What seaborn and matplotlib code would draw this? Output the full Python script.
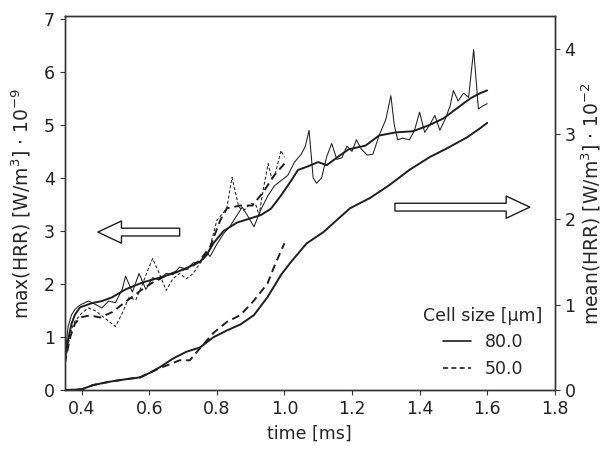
import matplotlib
matplotlib.use("Agg")
import seaborn as sns
import pandas as pd
import matplotlib.pyplot as plt
from matplotlib.lines import Line2D

# Data --------------------------------------------------------------------
# max(HRR), 80 um, raw
t80_raw = [0.35, 0.355, 0.36, 0.37, 0.38, 0.39, 0.40, 0.42, 0.44, 0.46,
           0.48, 0.50, 0.52, 0.53, 0.55, 0.57, 0.59, 0.61, 0.63, 0.65,
           0.67, 0.69, 0.71, 0.73, 0.75, 0.77, 0.78, 0.80, 0.82, 0.84,
           0.86, 0.875, 0.89, 0.91, 0.93, 0.95, 0.97, 0.99, 1.01, 1.03,
           1.05, 1.062, 1.073, 1.085, 1.095, 1.11, 1.125, 1.14, 1.155, 1.17,
           1.185, 1.20, 1.213, 1.227, 1.245, 1.262, 1.28, 1.30, 1.315, 1.325,
           1.335, 1.35, 1.37, 1.385, 1.40, 1.415, 1.43, 1.445, 1.46, 1.475,
           1.49, 1.50, 1.514, 1.53, 1.545, 1.56, 1.574, 1.585, 1.60]
max80_raw = [0.5, 0.9, 1.2, 1.42, 1.52, 1.58, 1.62, 1.68, 1.62, 1.55,
             1.68, 1.65, 1.9, 2.15, 1.85, 2.2, 1.9, 2.12, 2.08, 2.2,
             2.18, 2.32, 2.28, 2.4, 2.42, 2.6, 2.52, 2.75, 2.95, 3.1,
             3.3, 3.45, 3.3, 3.08, 3.4, 3.65, 3.85, 3.95, 4.05, 4.3,
             4.45, 4.6, 4.9, 4.0, 3.9, 4.0, 4.4, 4.65, 4.35, 4.38,
             4.6, 4.5, 4.72, 4.55, 4.43, 4.45, 4.8, 5.1, 5.55, 5.0,
             4.72, 4.75, 4.72, 4.9, 5.24, 4.86, 5.0, 5.18, 4.9, 5.1,
             5.35, 5.65, 5.45, 5.6, 5.52, 6.42, 5.3, 5.35, 5.4]
# max(HRR), 50 um, raw
t50_raw = [0.35, 0.36, 0.37, 0.38, 0.40, 0.42, 0.44, 0.46, 0.48, 0.50,
           0.52, 0.54, 0.56, 0.58, 0.595, 0.61, 0.63, 0.65, 0.67, 0.69,
           0.71, 0.73, 0.75, 0.775, 0.80, 0.82, 0.83, 0.845, 0.865, 0.88,
           0.90, 0.915, 0.925, 0.937, 0.952, 0.962, 0.972, 0.99, 1.0]
max50_raw = [0.5, 0.85, 1.15, 1.3, 1.45, 1.55, 1.5, 1.4, 1.3, 1.2,
             1.45, 1.75, 1.7, 2.0, 2.25, 2.48, 2.2, 1.88, 2.1, 2.2,
             2.1, 2.2, 2.39, 2.58, 3.2, 3.35, 3.45, 4.01, 3.45, 3.39,
             3.52, 3.5, 3.3, 3.77, 4.27, 4.0, 4.05, 4.52, 4.39]
# max(HRR), 80 um, smoothed
t80_avg = [0.35, 0.36, 0.37, 0.38, 0.395, 0.43, 0.46, 0.49, 0.53, 0.58,
           0.63, 0.68, 0.72, 0.75, 0.77, 0.79, 0.82, 0.86, 0.89, 0.93,
           0.96, 0.99, 1.02, 1.04, 1.07, 1.10, 1.125, 1.165, 1.19, 1.24,
           1.28, 1.33, 1.38, 1.43, 1.47, 1.51, 1.55, 1.58, 1.60]
max80_avg = [0.55, 0.95, 1.25, 1.42, 1.56, 1.64, 1.68, 1.75, 1.9, 2.03,
             2.12, 2.22, 2.33, 2.42, 2.55, 2.77, 3.0, 3.16, 3.22, 3.3,
             3.42, 3.67, 3.95, 4.15, 4.22, 4.3, 4.24, 4.43, 4.54, 4.61,
             4.8, 4.86, 4.88, 5.0, 5.12, 5.31, 5.5, 5.6, 5.65]
# max(HRR), 50 um, smoothed
t50_avg = [0.35, 0.366, 0.38, 0.395, 0.425, 0.455, 0.49, 0.535, 0.575, 0.61,
           0.65, 0.69, 0.72, 0.75, 0.78, 0.81, 0.83, 0.87, 0.905, 0.937,
           0.97, 1.0]
max50_avg = [0.5, 1.0, 1.25, 1.37, 1.41, 1.37, 1.47, 1.69, 1.88, 2.03,
             2.16, 2.26, 2.3, 2.45, 2.7, 3.2, 3.43, 3.48, 3.48, 3.73,
             4.05, 4.27]
# mean(HRR)
t80_mean = [0.35, 0.40, 0.434, 0.484, 0.534, 0.573, 0.60, 0.632, 0.67, 0.71,
            0.75, 0.79, 0.83, 0.87, 0.91, 0.95, 0.99, 1.017, 1.066, 1.115,
            1.194, 1.253, 1.31, 1.37, 1.43, 1.48, 1.54, 1.58, 1.60]
mean80 = [0.0, 0.01, 0.06, 0.1, 0.13, 0.15, 0.2, 0.27, 0.37, 0.45,
          0.5, 0.62, 0.7, 0.77, 0.88, 1.09, 1.35, 1.49, 1.72, 1.85,
          2.13, 2.25, 2.4, 2.58, 2.73, 2.83, 2.96, 3.07, 3.13]
t50_mean = [0.35, 0.40, 0.434, 0.484, 0.534, 0.573, 0.60, 0.632, 0.652, 0.69,
            0.72, 0.75, 0.79, 0.83, 0.87, 0.91, 0.95, 0.97, 1.0]
mean50 = [0.0, 0.01, 0.06, 0.1, 0.13, 0.15, 0.2, 0.26, 0.29, 0.35,
          0.35, 0.49, 0.67, 0.8, 0.88, 1.05, 1.25, 1.45, 1.72]
cell_sizes = ['80.0', '50.0']

# Style -------------------------------------------------------------------
sns.set_style('ticks')
plt.rcParams['font.family'] = ['DejaVu Sans']
plt.rcParams['font.size'] = 12.5
plt.rcParams['mathtext.fontset'] = 'dejavusans'
col = '#1e1e1e'

fig, ax = plt.subplots(figsize=(6.05, 4.49), dpi=100)
fig.subplots_adjust(left=0.107, right=0.917, top=0.964, bottom=0.131)
ax2 = ax.twinx()

thin, thick = 0.75, 1.4
sns.lineplot(x=t80_raw, y=max80_raw, ax=ax, color=col, lw=thin)
sns.lineplot(x=t50_raw, y=max50_raw, ax=ax, color=col, lw=thin,
             linestyle=(0, (3, 2)))
sns.lineplot(x=t80_avg, y=max80_avg, ax=ax, color=col, lw=thick)
sns.lineplot(x=t50_avg, y=max50_avg, ax=ax, color=col, lw=thick,
             linestyle=(0, (4, 2.5)))
sns.lineplot(x=t80_mean, y=mean80, ax=ax2, color=col, lw=thick)
sns.lineplot(x=t50_mean, y=mean50, ax=ax2, color=col, lw=thick,
             linestyle=(0, (4, 2.5)))

# Axes --------------------------------------------------------------------
ax.set_xlim(0.35, 1.8)
ax.set_ylim(0, 7.05)
ax2.set_ylim(0, 4.38)
ax.set_xticks([0.4, 0.6, 0.8, 1.0, 1.2, 1.4, 1.6, 1.8])
ax.set_yticks(range(0, 8))
ax2.set_yticks(range(0, 5))
ax.set_xlabel('time [ms]', labelpad=5)
ax.set_ylabel(r'max(HRR) [W/m$^3$] $\cdot$ 10$^{-9}$', fontsize=13.5,
              labelpad=8)
ax2.set_ylabel(r'mean(HRR) [W/m$^3$] $\cdot$ 10$^{-2}$', fontsize=13.5,
               labelpad=3)
for a in (ax, ax2):
    for s in a.spines.values():
        s.set_color('#333333')
        s.set_linewidth(1.0)
    a.tick_params(colors='#222222', color='#333333', labelsize=12.5)

# Arrows ------------------------------------------------------------------
arrow = dict(arrowstyle='simple,head_length=0.85,head_width=0.8,tail_width=0.28',
             mutation_scale=20, fc='white', ec=col, lw=1.0,
             shrinkA=0, shrinkB=0)
ax.annotate('', xy=(0.448, 2.98), xytext=(0.69, 2.98), arrowprops=arrow)
ax.annotate('', xy=(1.726, 3.45), xytext=(1.327, 3.45), arrowprops=arrow)

# Legend ------------------------------------------------------------------
handles = [Line2D([], [], color=col, lw=1.2),
           Line2D([], [], color=col, lw=1.2, ls=(0, (3, 2)))]
ax2.legend(handles, cell_sizes, title='Cell size [µm]', loc='lower right',
           frameon=False, handlelength=1.6, fontsize=12.5,
           title_fontsize=12.5, borderaxespad=0.3)

fig.savefig('out.png', dpi=100)
